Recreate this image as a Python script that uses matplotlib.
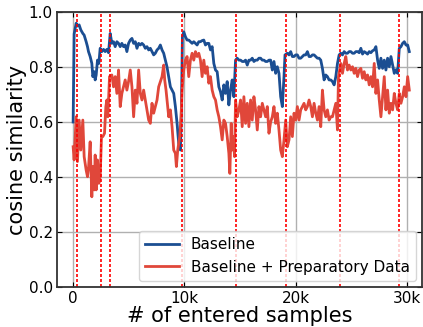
from matplotlib import pyplot as plt
from matplotlib.ticker import FuncFormatter

# number of entered samples / cosine similarity
base_x = [0, 90, 270, 390, 540, 690, 870, 990, 1170, 1290, 1380, 1530, 1680, 1770, 1890,
          1980, 2070, 2190, 2310, 2430, 2580, 2730, 2880, 3030, 3180, 3330, 3480, 3630,
          3780, 3930, 4080, 4230, 4380, 4530, 4680, 4830, 4980, 5135, 5285, 5435, 5586,
          5736, 5886, 6036, 6186, 6336, 6486, 6637, 6787, 6937, 7087, 7237, 7387, 7538,
          7688, 7838, 7988, 8138, 8288, 8438, 8589, 8739, 8889, 9039, 9189, 9339, 9489,
          9640, 9730, 9820, 9940, 10090, 10240, 10390, 10540, 10691, 10841, 10991, 11141,
          11291, 11441, 11592, 11742, 11892, 12042, 12192, 12342, 12493, 12643, 12793,
          12943, 13093, 13243, 13394, 13544, 13694, 13844, 13994, 14144, 14294, 14444,
          14595, 14745, 14895, 15045, 15195, 15345, 15495, 15646, 15796, 15946, 16096,
          16246, 16396, 16547, 16697, 16847, 16997, 17147, 17297, 17447, 17598, 17748,
          17898, 18048, 18198, 18348, 18498, 18649, 18799, 18949, 19039, 19249, 19399,
          19550, 19700, 19850, 20000, 20150, 20300, 20450, 20601, 20751, 20901, 21051,
          21201, 21351, 21502, 21652, 21802, 21952, 22102, 22252, 22402, 22553, 22703,
          22853, 23003, 23153, 23304, 23454, 23604, 23754, 23904, 24054, 24204, 24354,
          24504, 24655, 24805, 24955, 25105, 25255, 25405, 25556, 25706, 25856, 26006,
          26156, 26306, 26457, 26607, 26757, 26907, 27057, 27207, 27358, 27508, 27658,
          27808, 27958, 28108, 28258, 28409, 28559, 28709, 28859, 29009, 29159, 29309,
          29459, 29610, 29760, 29910, 30060, 30210]
baseline = [0.60, 0.92, 0.959, 0.949, 0.953, 0.935, 0.922, 0.916, 0.892, 0.874, 0.856, 0.838,
            0.813, 0.765, 0.783, 0.753, 0.771, 0.825, 0.813, 0.868, 0.856, 0.864, 0.856,
            0.864, 0.852, 0.922, 0.886, 0.892, 0.874, 0.892, 0.886, 0.874, 0.886, 0.874,
            0.88, 0.856, 0.886, 0.898, 0.904, 0.886, 0.892, 0.868, 0.886, 0.88, 0.886,
            0.88, 0.868, 0.874, 0.862, 0.868, 0.856, 0.844, 0.85, 0.862, 0.868, 0.88,
            0.862, 0.85, 0.825, 0.80, 0.765, 0.728, 0.716, 0.704, 0.656, 0.595, 0.522,
            0.498, 0.644, 0.91, 0.928, 0.91, 0.898, 0.898, 0.892, 0.886, 0.892, 0.886,
            0.88, 0.892, 0.892, 0.896, 0.898, 0.88, 0.886, 0.886, 0.862, 0.874, 0.813,
            0.789, 0.783, 0.728, 0.71, 0.68, 0.735, 0.704, 0.747, 0.662, 0.716, 0.753,
            0.692, 0.825, 0.832, 0.825, 0.825, 0.82, 0.82, 0.825, 0.807, 0.825, 0.825,
            0.832, 0.82, 0.825, 0.825, 0.832, 0.832, 0.825, 0.825, 0.82, 0.82, 0.825,
            0.825, 0.789, 0.82, 0.777, 0.801, 0.777, 0.692, 0.656, 0.765, 0.844, 0.85,
            0.844, 0.856, 0.838, 0.838, 0.844, 0.844, 0.832, 0.832, 0.838, 0.844, 0.844,
            0.856, 0.838, 0.838, 0.844, 0.844, 0.838, 0.832, 0.832, 0.825, 0.795, 0.753,
            0.771, 0.765, 0.753, 0.753, 0.747, 0.735, 0.765, 0.813, 0.844, 0.85, 0.844,
            0.856, 0.85, 0.85, 0.856, 0.856, 0.85, 0.85, 0.856, 0.856, 0.852, 0.868,
            0.847, 0.856, 0.852, 0.847, 0.856, 0.852, 0.859, 0.862, 0.874, 0.825, 0.795,
            0.832, 0.795, 0.825, 0.789, 0.832, 0.801, 0.838, 0.807, 0.777, 0.79, 0.777,
            0.868, 0.874, 0.886, 0.892, 0.88, 0.88, 0.856]

prep_x = [0, 90, 270, 390, 540, 690, 870, 990, 1170, 1290, 1380, 1530, 1680, 1770, 1890,
          1980, 2070, 2190, 2310, 2430, 2550, 2670, 2820, 2940, 3030, 3120, 3270, 3480,
          3630, 3780, 3930, 4080, 4230, 4380, 4530, 4680, 4830, 4980, 5135, 5285, 5435,
          5586, 5736, 5886, 6036, 6186, 6336, 6486, 6637, 6787, 6937, 7087, 7237, 7387,
          7538, 7688, 7838, 7988, 8138, 8228, 8348, 8438, 8589, 8739, 8889, 9039, 9189,
          9279, 9399, 9579, 9700, 9790, 9940, 10090, 10240, 10390, 10540, 10691, 10841,
          10991, 11141, 11291, 11441, 11592, 11742, 11892, 12042, 12192, 12342, 12493,
          12643, 12793, 12943, 13093, 13243, 13394, 13544, 13694, 13844, 13994, 14084,
          14204, 14294, 14384, 14505, 14595, 14745, 14895, 15045, 15195, 15345, 15495,
          15646, 15796, 15946, 16096, 16246, 16396, 16547, 16697, 16847, 16997, 17147,
          17297, 17447, 17598, 17748, 17898, 18048, 18198, 18348, 18498, 18649, 18799,
          18949, 19099, 19249, 19399, 19550, 19700, 19850, 20000, 20150, 20300, 20450,
          20601, 20751, 20901, 21051, 21201, 21351, 21502, 21652, 21802, 21952, 22102,
          22252, 22402, 22553, 22703, 22853, 23003, 23153, 23304, 23454, 23604, 23754,
          23844, 24054, 24204, 24354, 24504, 24655, 24805, 24955, 25105, 25255, 25405,
          25556, 25706, 25856, 26006, 26156, 26306, 26457, 26607, 26757, 26907, 27057,
          27207, 27358, 27508, 27658, 27808, 27958, 28108, 28258, 28409, 28559, 28709,
          28859, 29009, 29159, 29309, 29459, 29610, 29760, 29910, 30060, 30210]
preparatory = [0.51, 0.462, 0.619, 0.456, 0.607, 0.498, 0.607, 0.474, 0.425, 0.401, 0.432,
               0.528, 0.328, 0.438, 0.353, 0.48, 0.353, 0.462, 0.377, 0.401, 0.547, 0.547,
               0.559, 0.656, 0.68, 0.619, 0.765, 0.771, 0.728, 0.765, 0.704, 0.789, 0.656,
               0.704, 0.728, 0.753, 0.716, 0.747, 0.789, 0.728, 0.619, 0.716, 0.668, 0.789,
               0.704, 0.68, 0.716, 0.68, 0.644, 0.607, 0.595, 0.668, 0.632, 0.656, 0.68,
               0.728, 0.747, 0.765, 0.807, 0.753, 0.716, 0.68, 0.619, 0.644, 0.583, 0.498,
               0.486, 0.438, 0.498, 0.547, 0.619, 0.716, 0.789, 0.825, 0.838, 0.765, 0.825,
               0.85, 0.825, 0.856, 0.838, 0.85, 0.825, 0.765, 0.825, 0.777, 0.801, 0.741,
               0.765, 0.716, 0.692, 0.68, 0.644, 0.619, 0.583, 0.535, 0.607, 0.595, 0.547,
               0.486, 0.413, 0.595, 0.498, 0.547, 0.474, 0.68, 0.619, 0.644, 0.68, 0.583,
               0.692, 0.595, 0.668, 0.583, 0.68, 0.607, 0.692, 0.644, 0.571, 0.656, 0.619,
               0.668, 0.644, 0.619, 0.656, 0.559, 0.60, 0.619, 0.656, 0.595, 0.632, 0.571,
               0.498, 0.474, 0.535, 0.607, 0.51, 0.535, 0.619, 0.547, 0.632, 0.607, 0.656,
               0.607, 0.644, 0.656, 0.668, 0.644, 0.656, 0.68, 0.656, 0.619, 0.668, 0.632,
               0.607, 0.656, 0.583, 0.716, 0.644, 0.619, 0.644, 0.607, 0.619, 0.619, 0.644,
               0.668, 0.571, 0.765, 0.813, 0.777, 0.813, 0.838, 0.789, 0.807, 0.789, 0.801,
               0.777, 0.795, 0.765, 0.789, 0.795, 0.759, 0.783, 0.753, 0.771, 0.735, 0.765,
               0.728, 0.813, 0.704, 0.753, 0.68, 0.619, 0.692, 0.765, 0.644, 0.716, 0.632,
               0.668, 0.644, 0.704, 0.668, 0.644, 0.704, 0.668, 0.692, 0.728, 0.692, 0.765,
               0.716]

# where new data was entered
boundaries = [360, 2460, 3270, 9820, 14680, 19100, 23960, 29300]

fig = plt.figure(figsize=(4.23, 3.27), dpi=100)
ax = fig.add_axes([57 / 423, 1 - 287 / 327, 365 / 423, 275 / 327])

ax.plot(base_x, baseline, color="#1b4e92", lw=2, label="Baseline")
ax.plot(prep_x, preparatory, color="#e0473a", lw=2, label="Baseline + Preparatory Data")
for b in boundaries:
    ax.axvline(b, color="red", ls=(0, (1.8, 1.2)), lw=1.2)

ax.set_xlim(-1450, 31350)
ax.set_ylim(0, 1)
ax.set_yticks([0, 0.2, 0.4, 0.6, 0.8, 1.0])
ax.set_xticks([0, 10000, 20000, 30000])
ax.xaxis.set_major_formatter(FuncFormatter(lambda v, p: "0" if v == 0 else "%dk" % (v / 1000)))
ax.grid(True, color="#b0b0b0", lw=1)
ax.set_axisbelow(True)
for s in ax.spines.values():
    s.set_linewidth(1.3)
    s.set_color("#333333")
ax.tick_params(direction="in", top=True, right=True, labelsize=11, pad=3)
ax.set_xlabel("# of entered samples", fontsize=15, labelpad=0)
ax.set_ylabel("cosine similarity", fontsize=15, labelpad=1)
ax.legend(loc="lower right", fontsize=11, handlelength=2.2, borderaxespad=0.4)

plt.savefig("out.png", dpi=100)
